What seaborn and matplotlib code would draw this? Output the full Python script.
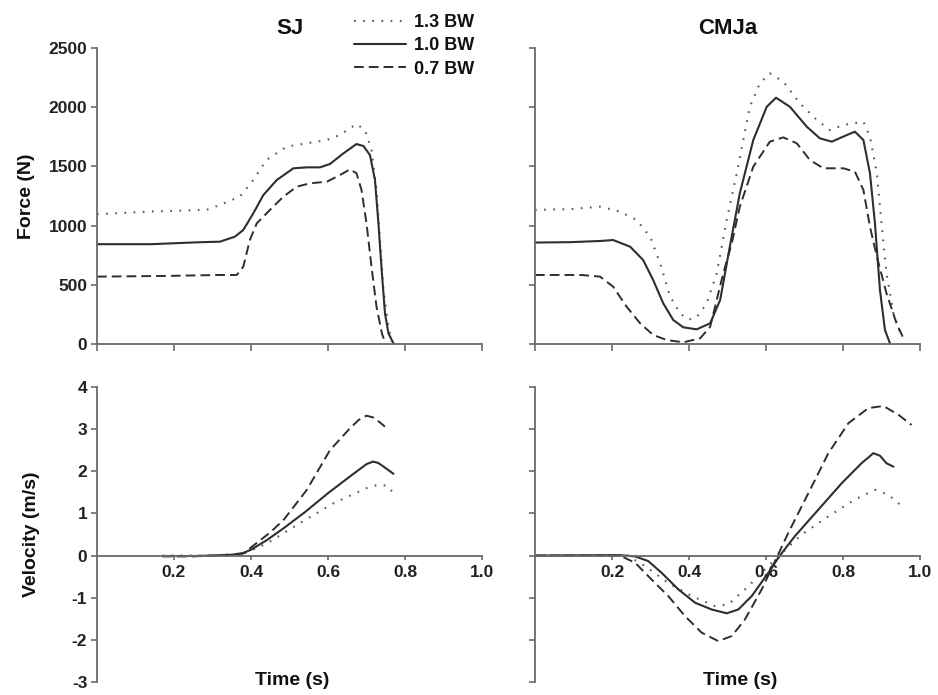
import matplotlib
matplotlib.use("Agg")
import matplotlib.pyplot as plt
import seaborn as sns

# ---------------- data ----------------
loads = ["1.3 BW", "1.0 BW", "0.7 BW"]

# SJ force (N)
sj_f_t_13 = [0.0, 0.14, 0.285, 0.319, 0.345, 0.371, 0.406, 0.44, 0.493, 0.545, 0.597, 0.631, 0.674, 0.696, 0.713, 0.726, 0.735, 0.744, 0.757, 0.765]
sj_f_13 = [1096, 1119, 1133, 1174, 1210, 1244, 1385, 1554, 1667, 1695, 1723, 1765, 1858, 1807, 1639, 1301, 878, 456, 146, 20]
sj_f_t_10 = [0.0, 0.14, 0.27, 0.319, 0.358, 0.38, 0.406, 0.432, 0.467, 0.51, 0.545, 0.579, 0.605, 0.64, 0.674, 0.692, 0.709, 0.722, 0.731, 0.74, 0.748, 0.757, 0.77]
sj_f_10 = [843, 843, 860, 864, 906, 963, 1104, 1258, 1385, 1484, 1492, 1492, 1520, 1610, 1689, 1672, 1596, 1385, 1019, 597, 259, 90, 6]
sj_f_t_07 = [0.0, 0.18, 0.319, 0.363, 0.38, 0.397, 0.415, 0.449, 0.484, 0.519, 0.553, 0.597, 0.631, 0.657, 0.674, 0.687, 0.70, 0.713, 0.726, 0.74, 0.748]
sj_f_07 = [569, 575, 583, 583, 653, 878, 1019, 1132, 1244, 1329, 1357, 1371, 1427, 1475, 1442, 1301, 1019, 653, 315, 90, 15]

# CMJa force (N)
cm_f_t_13 = [0.0, 0.09, 0.169, 0.221, 0.264, 0.299, 0.325, 0.351, 0.377, 0.398, 0.42, 0.446, 0.472, 0.498, 0.524, 0.558, 0.584, 0.61, 0.645, 0.688, 0.732, 0.766, 0.801, 0.853, 0.87, 0.888, 0.90, 0.913, 0.931, 0.952]
cm_f_13 = [1133, 1139, 1160, 1118, 1047, 906, 681, 400, 259, 205, 225, 344, 597, 1047, 1442, 2004, 2202, 2286, 2216, 2033, 1892, 1807, 1850, 1878, 1751, 1442, 1019, 597, 259, 62]
cm_f_t_10 = [0.0, 0.09, 0.169, 0.203, 0.247, 0.281, 0.307, 0.333, 0.359, 0.385, 0.42, 0.455, 0.481, 0.506, 0.532, 0.567, 0.602, 0.626, 0.662, 0.706, 0.74, 0.771, 0.81, 0.831, 0.853, 0.87, 0.883, 0.896, 0.909, 0.922]
cm_f_10 = [857, 860, 870, 878, 822, 709, 540, 344, 203, 141, 124, 175, 372, 822, 1273, 1723, 2004, 2080, 2004, 1835, 1737, 1709, 1765, 1793, 1723, 1442, 1019, 456, 118, 6]
cm_f_t_07 = [0.0, 0.12, 0.169, 0.203, 0.238, 0.273, 0.307, 0.342, 0.385, 0.429, 0.455, 0.472, 0.489, 0.511, 0.532, 0.567, 0.61, 0.645, 0.68, 0.714, 0.749, 0.801, 0.831, 0.853, 0.87, 0.888, 0.913, 0.939, 0.957]
cm_f_07 = [583, 583, 569, 484, 315, 175, 76, 34, 14, 48, 146, 372, 597, 850, 1160, 1498, 1709, 1745, 1695, 1554, 1484, 1484, 1455, 1301, 991, 737, 428, 175, 48]

# SJ velocity (m/s)
sj_v_t_13 = [0.17, 0.30, 0.38, 0.40, 0.44, 0.527, 0.614, 0.70, 0.73, 0.753, 0.774]
sj_v_13 = [0.0, 0.0, 0.05, 0.12, 0.28, 0.77, 1.24, 1.60, 1.68, 1.66, 1.44]
sj_v_t_10 = [0.17, 0.25, 0.30, 0.35, 0.38, 0.40, 0.44, 0.485, 0.54, 0.60, 0.656, 0.70, 0.717, 0.73, 0.743, 0.77]
sj_v_10 = [-0.01, -0.01, 0.0, 0.02, 0.06, 0.14, 0.36, 0.65, 1.03, 1.48, 1.87, 2.17, 2.23, 2.20, 2.12, 1.94]
sj_v_t_07 = [0.17, 0.25, 0.30, 0.35, 0.38, 0.415, 0.45, 0.485, 0.545, 0.605, 0.657, 0.68, 0.70, 0.72, 0.748]
sj_v_07 = [-0.02, -0.02, 0.0, 0.01, 0.05, 0.30, 0.55, 0.85, 1.56, 2.50, 3.02, 3.22, 3.32, 3.27, 3.06]

# CMJa velocity (m/s)
cm_v_t_13 = [0.0, 0.24, 0.286, 0.346, 0.407, 0.468, 0.502, 0.554, 0.606, 0.641, 0.693, 0.762, 0.831, 0.883, 0.918, 0.948]
cm_v_13 = [0.0, 0.0, -0.25, -0.65, -0.96, -1.20, -1.16, -0.73, -0.25, 0.06, 0.50, 0.93, 1.33, 1.56, 1.44, 1.21]
cm_v_t_10 = [0.0, 0.22, 0.26, 0.294, 0.329, 0.372, 0.416, 0.459, 0.498, 0.528, 0.563, 0.606, 0.636, 0.675, 0.736, 0.797, 0.848, 0.879, 0.896, 0.913, 0.931]
cm_v_10 = [0.0, 0.01, -0.02, -0.13, -0.41, -0.80, -1.12, -1.28, -1.37, -1.28, -0.96, -0.41, 0.0, 0.46, 1.09, 1.72, 2.19, 2.43, 2.37, 2.19, 2.11]
cm_v_t_07 = [0.0, 0.20, 0.225, 0.26, 0.303, 0.346, 0.39, 0.433, 0.476, 0.511, 0.545, 0.589, 0.623, 0.658, 0.71, 0.762, 0.814, 0.866, 0.905, 0.944, 0.978]
cm_v_07 = [0.0, 0.0, -0.02, -0.17, -0.57, -0.96, -1.44, -1.83, -2.03, -1.91, -1.52, -0.80, -0.14, 0.54, 1.48, 2.43, 3.14, 3.50, 3.55, 3.34, 3.10]

x_ticks = [0.0, 0.2, 0.4, 0.6, 0.8, 1.0]
vel_x_ticks = [0.2, 0.4, 0.6, 0.8, 1.0]
force_ticks = [0, 500, 1000, 1500, 2000, 2500]
vel_ticks = [-3, -2, -1, 0, 1, 2, 3, 4]

# ---------------- style ----------------
sns.set_theme(style="white")
plt.rcParams['font.family'] = ['Liberation Sans', 'DejaVu Sans']
plt.rcParams['font.weight'] = 'bold'
plt.rcParams['axes.unicode_minus'] = False

LINE = "#2e2e2e"
SPINE = "#6a6a6a"
styles = {
    "1.3 BW": dict(linestyle=(0, (0.8, 3.6)), lw=1.5, color="#555555"),
    "1.0 BW": dict(linestyle="-", lw=1.5, color=LINE),
    "0.7 BW": dict(linestyle=(0, (5, 2.6)), lw=1.4, color=LINE),
}

W, H = 938, 695
fig = plt.figure(figsize=(W / 100, H / 100), dpi=100)


def box(x0, x1, y0, y1):
    return [x0 / W, 1 - y1 / H, (x1 - x0) / W, (y1 - y0) / H]


ax_sjf = fig.add_axes(box(97, 482, 48, 344))
ax_cmf = fig.add_axes(box(535, 920, 48, 344))
ax_sjv = fig.add_axes(box(97, 482, 387, 682))
ax_cmv = fig.add_axes(box(535, 920, 387, 682))

panels = [
    (ax_sjf, [(sj_f_t_13, sj_f_13), (sj_f_t_10, sj_f_10), (sj_f_t_07, sj_f_07)]),
    (ax_cmf, [(cm_f_t_13, cm_f_13), (cm_f_t_10, cm_f_10), (cm_f_t_07, cm_f_07)]),
    (ax_sjv, [(sj_v_t_13, sj_v_13), (sj_v_t_10, sj_v_10), (sj_v_t_07, sj_v_07)]),
    (ax_cmv, [(cm_v_t_13, cm_v_13), (cm_v_t_10, cm_v_10), (cm_v_t_07, cm_v_07)]),
]

for ax, series in panels:
    for name, (t, v) in zip(loads, series):
        sns.lineplot(x=t, y=v, ax=ax, label=name if ax is ax_sjf else None,
                     clip_on=False, **styles[name])
    if ax.get_legend() is not None:
        ax.get_legend().remove()
    for s in ("top", "right"):
        ax.spines[s].set_visible(False)
    for s in ("left", "bottom"):
        ax.spines[s].set_color(SPINE)
        ax.spines[s].set_linewidth(1.3)
    ax.set_xlim(0, 1.0)
    ax.tick_params(axis="both", which="both", bottom=True, left=True,
                   direction="out", length=4, width=1.2, color=SPINE,
                   labelsize=12.5, labelcolor="#222222", pad=3)

# force panels
for ax in (ax_sjf, ax_cmf):
    ax.set_ylim(0, 2500)
    ax.set_yticks(force_ticks)
    ax.set_xticks(x_ticks)
    ax.set_xticklabels([])
    ax.tick_params(axis="x", length=5)
ax_cmf.set_yticklabels([])

# velocity panels
for ax in (ax_sjv, ax_cmv):
    ax.set_ylim(-3, 4)
    ax.set_yticks(vel_ticks)
    ax.spines["bottom"].set_position(("data", 0))
    ax.set_xticks(vel_x_ticks)
    ax.set_xticklabels([f"{v:.1f}" for v in vel_x_ticks])
    ax.tick_params(axis="x", length=3, pad=4)
ax_cmv.set_yticklabels([])

for lab in ax_sjf.get_yticklabels() + ax_sjv.get_yticklabels() + \
        ax_sjv.get_xticklabels() + ax_cmv.get_xticklabels():
    lab.set_fontweight("bold")

# titles and labels
ax_sjf.set_title("SJ", fontsize=16, fontweight="bold", pad=10, color="#111111")
ax_cmf.set_title("CMJa", fontsize=16, fontweight="bold", pad=10, color="#111111")

ax_sjf.set_ylabel("Force (N)", fontsize=14, fontweight="bold", color="#111111")
ax_sjf.yaxis.set_label_coords(-0.161, 0.5)
ax_sjv.set_ylabel("Velocity (m/s)", fontsize=14, fontweight="bold", color="#111111")
ax_sjv.yaxis.set_label_coords(-0.148, 0.5)

ax_sjv.set_xlabel("Time (s)", fontsize=14, fontweight="bold", color="#111111")
ax_sjv.xaxis.set_label_coords(0.506, 0.035)
ax_cmv.set_xlabel("Time (s)", fontsize=14, fontweight="bold", color="#111111")
ax_cmv.xaxis.set_label_coords(0.532, 0.035)

handles, labels = ax_sjf.get_legend_handles_labels()
fig.legend(handles, labels, loc="upper left",
           bbox_to_anchor=(354 / W, 1 - 14 / H), frameon=False,
           prop={"weight": "bold", "size": 13}, handlelength=2.9,
           handletextpad=0.45, labelspacing=0.35, borderaxespad=0,
           borderpad=0, labelcolor="#111111")

fig.savefig("out.png", dpi=100)
